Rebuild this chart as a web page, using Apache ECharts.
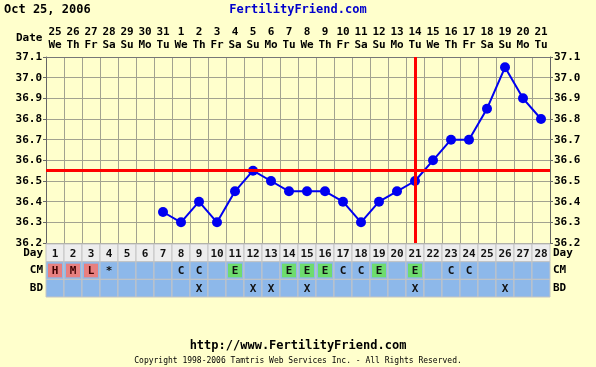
<!DOCTYPE html>
<html><head><meta charset="utf-8">
<script src="https://cdn.jsdelivr.net/npm/echarts@6/dist/echarts.min.js"></script>
<style>html,body{margin:0;padding:0;background:#FFFFCC;}#c{width:596px;height:367px;}</style>
</head><body><div id="c"></div>
<script>
const dayNums = ['1','2','3','4','5','6','7','8','9','10','11','12','13','14','15','16','17','18','19','20','21','22','23','24','25','26','27','28'];
const dates = ['25','26','27','28','29','30','31','1','2','3','4','5','6','7','8','9','10','11','12','13','14','15','16','17','18','19','20','21'];
const weekdays = ['We','Th','Fr','Sa','Su','Mo','Tu','We','Th','Fr','Sa','Su','Mo','Tu','We','Th','Fr','Sa','Su','Mo','Tu','We','Th','Fr','Sa','Su','Mo','Tu'];
const temps = [null,null,null,null,null,null,36.35,36.30,36.40,36.30,36.45,36.55,36.50,36.45,36.45,36.45,36.40,36.30,36.40,36.45,36.50,36.60,36.70,36.70,36.85,37.05,36.90,36.80];
const coverline = 36.55;
const ovulationDay = '21';
const cmCodes = ['H','M','L','*','','','','C','C','','E','','','E','E','E','C','C','E','','E','','C','C','','','',''];
const bdCodes = ['','','','','','','','','X','','','X','X','','X','','','','','','X','','','','','X','',''];
const rowNames = ['Day','CM','BD'];
const yTicks = ['36.2','36.3','36.4','36.5','36.6','36.7','36.8','36.9','37.0','37.1'];

const FONT = 'DejaVu Sans Mono';
const highlight = {H:'#E88080', M:'#E88080', L:'#E88080', E:'#6EDC6E'};
const rowBg = ['#EDEDED','#8DB8EA','#8DB8EA'];
const GRID = '#A2A290';

const cellData = [];
dayNums.forEach((d,i)=>{
  cellData.push([i,0,d]);
  cellData.push([i,1,cmCodes[i]]);
  cellData.push([i,2,bdCodes[i]]);
});

const chart = echarts.init(document.getElementById('c'), null, {renderer:'canvas'});
const lbl = {fontFamily:FONT, fontWeight:'bold', fontSize:11, color:'#000'};
chart.setOption({
  backgroundColor:'#FFFFCC',
  animation:false,
  grid:[
    {left:46, right:46, top:57, bottom:124, show:false},
    {left:46, right:46, top:244, bottom:70, show:false}
  ],
  xAxis:[
    {type:'category', gridIndex:0, data:dayNums, position:'top', boundaryGap:true,
     axisLine:{show:true, lineStyle:{color:'#777'}}, axisTick:{show:false},
     splitLine:{show:true, interval:0, lineStyle:{color:GRID, width:1}},
     axisLabel:{interval:0, margin:5, formatter:(v,i)=>'{a|'+dates[i]+'}\n{a|'+weekdays[i]+'}',
       rich:{a:{fontFamily:FONT, fontWeight:'bold', fontSize:11, color:'#000', lineHeight:13}}}},
    {type:'category', gridIndex:1, data:dayNums, show:false}
  ],
  yAxis:[
    {type:'value', gridIndex:0, min:36.2, max:37.1, interval:0.1, position:'left',
     axisLine:{show:true, lineStyle:{color:'#666'}}, axisTick:{show:true, length:3, lineStyle:{color:'#666'}},
     splitLine:{show:true, lineStyle:{color:GRID}},
     axisLabel:Object.assign({margin:4, formatter:(v)=>yTicks[Math.round((v-36.2)*10)]}, lbl)},
    {type:'value', gridIndex:0, min:36.2, max:37.1, interval:0.1, position:'right',
     axisLine:{show:true, lineStyle:{color:'#666'}}, axisTick:{show:true, length:3, lineStyle:{color:'#666'}},
     splitLine:{show:false},
     axisLabel:Object.assign({margin:4, formatter:(v)=>yTicks[Math.round((v-36.2)*10)]}, lbl)},
    {type:'category', gridIndex:1, data:rowNames, inverse:true, position:'left',
     axisLine:{show:false}, axisTick:{show:false}, axisLabel:Object.assign({margin:3}, lbl)},
    {type:'category', gridIndex:1, data:rowNames, inverse:true, position:'right',
     axisLine:{show:false}, axisTick:{show:false}, axisLabel:Object.assign({margin:3}, lbl)}
  ],
  series:[
    {type:'line', xAxisIndex:0, yAxisIndex:0, data:temps, connectNulls:false,
     symbol:'circle', symbolSize:10, itemStyle:{color:'#0000F0'}, lineStyle:{color:'#0000F0', width:2},
     markLine:{silent:true, symbol:'none', label:{show:false},
       lineStyle:{color:'#FF0000', width:3, type:'solid'},
       data:[{yAxis:coverline},{xAxis:ovulationDay}]},
     z:3},
    {type:'custom', xAxisIndex:1, yAxisIndex:2, data:cellData,
     renderItem:(params, api)=>{
       const x = api.value(0), y = api.value(1);
       const txt = cellData[params.dataIndex][2];
       const c = api.coord([x,y]); const s = api.size([1,1]);
       const x0 = c[0]-s[0]/2, y0 = c[1]-s[1]/2;
       const ch = [{type:'rect', shape:{x:x0, y:y0, width:s[0], height:s[1]},
                    style:{fill:rowBg[y], stroke:'#C4C4C4', lineWidth:1}}];
       if (y===1 && highlight[txt]) {
         ch.push({type:'rect', shape:{x:x0+2, y:y0+2, width:s[0]-4, height:s[1]-4}, style:{fill:highlight[txt]}});
       }
       if (txt) {
         ch.push({type:'text', style:{x:c[0], y:c[1]+1, text:txt, align:'center', verticalAlign:'middle',
           font:'bold 11px "'+FONT+'"', fill: (y===1 && 'HML'.includes(txt)) ? '#400000' : '#111'}});
       }
       return {type:'group', children:ch};
     }}
  ],
  graphic:[
    {type:'text', left:4, top:4, style:{text:'Oct 25, 2006', font:'bold 12px "'+FONT+'"', fill:'#000'}},
    {type:'text', left:'center', top:4, style:{text:'FertilityFriend.com', font:'bold 12px "'+FONT+'"', fill:'#0000CC'}},
    {type:'text', left:16, top:33, style:{text:'Date', font:'bold 11px "'+FONT+'"', fill:'#000'}},
    {type:'text', left:'center', top:340, style:{text:'http://www.FertilityFriend.com', font:'bold 12px "'+FONT+'"', fill:'#000'}},
    {type:'text', left:'center', top:357, style:{text:'Copyright 1998-2006 Tamtris Web Services Inc. - All Rights Reserved.', font:'8px "'+FONT+'"', fill:'#000'}}
  ]
});
</script>
</body></html>
